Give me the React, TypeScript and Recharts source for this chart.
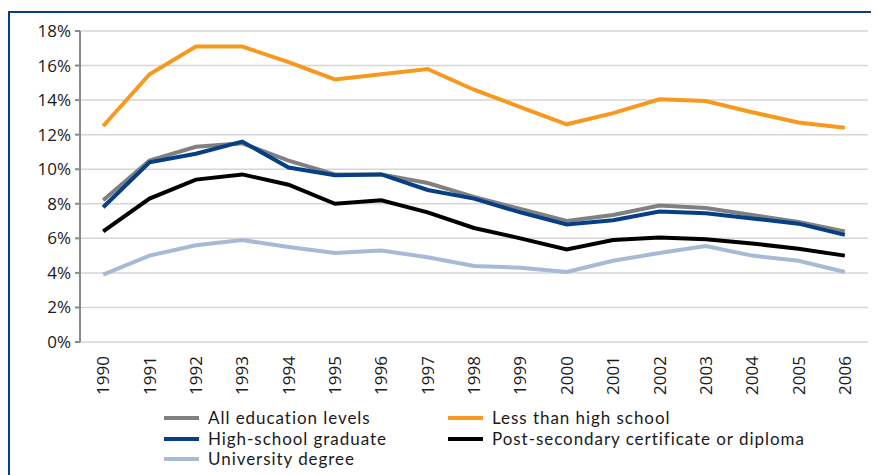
import React from "react";
import { LineChart, Line, XAxis, YAxis, CartesianGrid } from "recharts";

const years = [1990, 1991, 1992, 1993, 1994, 1995, 1996, 1997, 1998, 1999, 2000, 2001, 2002, 2003, 2004, 2005, 2006];
const allLevels = [8.2, 10.5, 11.3, 11.5, 10.5, 9.7, 9.7, 9.2, 8.4, 7.7, 7.0, 7.35, 7.9, 7.75, 7.35, 6.95, 6.4];
const lessThanHS = [12.5, 15.5, 17.1, 17.1, 16.2, 15.2, 15.5, 15.8, 14.6, 13.6, 12.6, 13.25, 14.05, 13.95, 13.3, 12.7, 12.4];
const hsGrad = [7.8, 10.4, 10.9, 11.6, 10.1, 9.65, 9.7, 8.8, 8.3, 7.5, 6.8, 7.05, 7.55, 7.45, 7.15, 6.85, 6.2];
const postSec = [6.4, 8.3, 9.4, 9.7, 9.1, 8.0, 8.2, 7.5, 6.6, 6.0, 5.35, 5.9, 6.05, 5.95, 5.7, 5.4, 5.0];
const univ = [3.9, 5.0, 5.6, 5.9, 5.5, 5.15, 5.3, 4.9, 4.4, 4.3, 4.05, 4.7, 5.15, 5.55, 5.0, 4.7, 4.05];
const yTicks = [0, 2, 4, 6, 8, 10, 12, 14, 16, 18];

const series = [
  { key: "all", name: "All education levels", color: "#808080", values: allLevels },
  { key: "less", name: "Less than high school", color: "#F7991E", values: lessThanHS },
  { key: "hs", name: "High-school graduate", color: "#053F86", values: hsGrad },
  { key: "post", name: "Post-secondary certificate or diploma", color: "#000000", values: postSec },
  { key: "univ", name: "University degree", color: "#A6BAD6", values: univ },
];

const data = years.map((y, i) => {
  const row: any = { year: y };
  series.forEach((s) => (row[s.key] = s.values[i]));
  return row;
});

const edgeTicks = [...years.map((y) => y - 0.5), years[years.length - 1] + 0.5];
const FONT = "'Open Sans', Lato, sans-serif";
const LEGEND_FONT = "Lato, 'Open Sans', sans-serif";
const TEXT = "#1a1a1a";

const YearTick = (props: any) => {
  const { x, y, payload } = props;
  return (
    <text
      transform={`translate(${x},${y + 6}) rotate(-90)`}
      textAnchor="end"
      dy="0.36em"
      fontSize={17}
      fontFamily={FONT}
      fill={TEXT}
    >
      {payload.value}
    </text>
  );
};

export default function App() {
  const legendCols = [
    [series[0], series[2], series[4]],
    [series[1], series[3]],
  ];
  const colLeft = [164, 448];
  return (
    <div style={{ position: "relative", width: 879, height: 475, margin: "-8px 0 0 -8px", background: "#fff", overflow: "hidden" }}>
      <div
        style={{
          position: "absolute",
          left: 8,
          top: 11,
          width: 900,
          height: 500,
          borderTop: "2px solid #0A3C82",
          borderLeft: "2px solid #0A3C82",
          boxSizing: "border-box",
        }}
      />
      <div style={{ position: "absolute", left: 0, top: 0 }}>
        <LineChart width={879} height={475} data={data} margin={{ top: 31, right: 11, left: 10, bottom: 0 }}>
          <CartesianGrid vertical={false} stroke="#d6d6d6" strokeWidth={1.5} />
          <XAxis
            xAxisId="edge"
            type="number"
            domain={[1989.5, 2006.5]}
            ticks={edgeTicks}
            allowDataOverflow
            tick={false}
            tickSize={5}
            tickLine={{ stroke: "#8a8a8a", strokeWidth: 2 }}
            axisLine={{ stroke: "#8a8a8a", strokeWidth: 2 }}
            height={0}
          />
          <XAxis
            xAxisId="yr"
            dataKey="year"
            type="number"
            domain={[1989.5, 2006.5]}
            ticks={years}
            interval={0}
            allowDataOverflow
            tickLine={false}
            axisLine={false}
            tick={<YearTick />}
            height={133}
          />
          <YAxis
            width={70}
            domain={[0, 18]}
            ticks={yTicks}
            interval={0}
            tickFormatter={(v: number) => `${v}%`}
            tickSize={5}
            tickMargin={4}
            tickLine={{ stroke: "#8a8a8a", strokeWidth: 2 }}
            axisLine={{ stroke: "#8a8a8a", strokeWidth: 2 }}
            tick={{ fontSize: 17, fontFamily: FONT, fill: TEXT }}
          />
          {series.map((s) => (
            <Line
              key={s.key}
              xAxisId="yr"
              dataKey={s.key}
              name={s.name}
              stroke={s.color}
              strokeWidth={4}
              dot={false}
              activeDot={false}
              type="linear"
              strokeLinejoin="miter"
              isAnimationActive={false}
            />
          ))}
        </LineChart>
      </div>
      {legendCols.map((col, ci) => (
        <div
          key={ci}
          style={{ position: "absolute", left: colLeft[ci], top: 408, fontFamily: LEGEND_FONT, fontSize: 17, letterSpacing: "0.95px", color: TEXT }}
        >
          {col.map((s) => (
            <div key={s.key} style={{ display: "flex", alignItems: "center", height: 20.5, lineHeight: "20px", whiteSpace: "nowrap" }}>
              <span style={{ display: "inline-block", width: 35, height: 4, background: s.color, marginRight: 9 }} />
              <span>{s.name}</span>
            </div>
          ))}
        </div>
      ))}
    </div>
  );
}
